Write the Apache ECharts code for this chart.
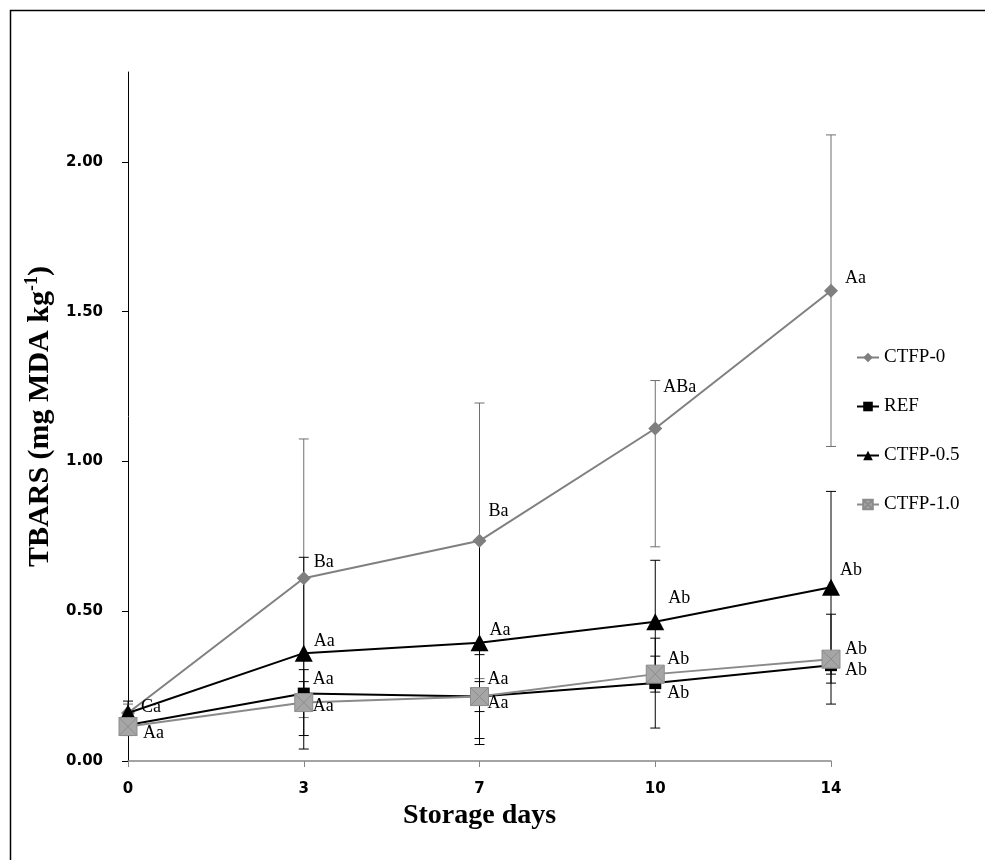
<!DOCTYPE html>
<html>
<head>
<meta charset="utf-8">
<script src="https://cdn.jsdelivr.net/npm/echarts@6/dist/echarts.min.js"></script>
<style>html,body{margin:0;padding:0;background:#fff}#c{width:985px;height:860px}</style>
</head>
<body>
<div id="c"></div>
<script>
// ---- data ----
const days = ['0', '3', '7', '10', '14'];
const yTicks = [0, 0.5, 1.0, 1.5, 2.0];

const ctfp0 = [0.16, 0.61, 0.735, 1.11, 1.57];
const ctfp0ErrUp = [0.03, 0.465, 0.46, 0.16, 0.52];
const ctfp0ErrDown = [0.03, 0.465, 0.46, 0.395, 0.52];
const ctfp0Letters = ['Ca', 'Ba', 'Ba', 'ABa', 'Aa'];

const ref = [0.12, 0.225, 0.215, 0.26, 0.32];
const refErr = [0.03, 0.04, 0.14, 0.15, 0.03];
const refLetters = ['', 'Aa', 'Aa', 'Ab', 'Ab'];

const ctfp05 = [0.16, 0.36, 0.395, 0.465, 0.58];
const ctfp05Err = [0.04, 0.32, 0.34, 0.205, 0.32];
const ctfp05Letters = ['', 'Aa', 'Aa', 'Ab', 'Ab'];

const ctfp10 = [0.115, 0.195, 0.215, 0.29, 0.34];
const ctfp10Err = [0.03, 0.11, 0.05, 0.06, 0.15];
const ctfp10Letters = ['Aa', 'Aa', 'Aa', 'Ab', 'Ab'];

// ---- styling (label offsets in px, not data) ----
const offCtfp0 = [[13, -6], [10, -16], [9, -30], [8, -41], [14, -12]];
const offRef = [[0, 0], [9, -14], [8, -17], [12, 10], [14, 5]];
const offCtfp05 = [[0, 0], [10, -12], [10, -12], [13, -23], [9, -17]];
const offCtfp10 = [[15, 7], [9, 4], [8, 7], [12, -15], [14, -10]];

const serif = 'Liberation Serif';
const sans = 'DejaVu Sans';

function errData(vals, up, down) {
  return vals.map((v, i) => [i, v - down[i], v + up[i]]);
}
function errSeries(name, vals, up, down, color) {
  return {
    type: 'custom',
    name: name + '-err',
    silent: true,
    z: 1,
    data: errData(vals, up, down),
    encode: { x: 0, y: [1, 2] },
    renderItem: function (params, api) {
      const i = api.value(0);
      const lo = api.coord([i, api.value(1)]);
      const hi = api.coord([i, api.value(2)]);
      const w = 5;
      const st = { stroke: color, lineWidth: 1 };
      return {
        type: 'group',
        children: [
          { type: 'line', shape: { x1: lo[0], y1: lo[1], x2: hi[0], y2: hi[1] }, style: st },
          { type: 'line', shape: { x1: lo[0] - w, y1: lo[1], x2: lo[0] + w, y2: lo[1] }, style: st },
          { type: 'line', shape: { x1: hi[0] - w, y1: hi[1], x2: hi[0] + w, y2: hi[1] }, style: st }
        ]
      };
    }
  };
}
function lineData(vals, letters, offs) {
  return vals.map((v, i) => ({
    value: v,
    label: {
      show: letters[i] !== '',
      formatter: letters[i],
      offset: offs[i]
    }
  }));
}
const labelBase = {
  position: 'inside',
  align: 'left',
  verticalAlign: 'middle',
  fontFamily: serif,
  fontSize: 18,
  color: '#000'
};

const chart = echarts.init(document.getElementById('c'), null, { renderer: 'canvas' });
chart.setOption({
  animation: false,
  backgroundColor: '#fff',
  graphic: [{
    type: 'rect',
    shape: { x: 10.5, y: 10.5, width: 990, height: 900 },
    style: { fill: 'none', stroke: '#000', lineWidth: 1.5 },
    silent: true
  }],
  grid: { left: 128, right: 154, top: 72, bottom: 99, containLabel: false },
  legend: {
    orient: 'vertical',
    left: 851,
    top: 343,
    itemGap: 30,
    itemWidth: 22,
    itemHeight: 12,
    textStyle: { fontFamily: serif, fontSize: 19, color: '#000' },
    data: ['CTFP-0', 'REF', 'CTFP-0.5', 'CTFP-1.0']
  },
  xAxis: {
    type: 'category',
    data: days,
    boundaryGap: false,
    axisLine: { lineStyle: { color: '#868686', width: 1.5 } },
    axisTick: { show: true, length: 6, lineStyle: { color: '#868686' } },
    axisLabel: { fontFamily: sans, fontWeight: 'bold', fontSize: 15, color: '#000', margin: 21 },
    splitLine: { show: false },
    name: 'Storage days',
    nameLocation: 'middle',
    nameGap: 28,
    nameTextStyle: { fontFamily: serif, fontWeight: 'bold', fontSize: 28, color: '#000', verticalAlign: 'top' }
  },
  yAxis: {
    type: 'value',
    min: 0,
    max: 2.3,
    interval: 0.5,
    axisLine: { show: true, lineStyle: { color: '#000', width: 1 } },
    axisTick: { show: true, length: 6, customValues: yTicks, lineStyle: { color: '#000' } },
    axisLabel: {
      customValues: yTicks,
      formatter: v => v.toFixed(2),
      fontFamily: sans, fontWeight: 'bold', fontSize: 15, color: '#000', margin: 25
    },
    splitLine: { show: false },
    name: '{a|TBARS (mg MDA kg}{s|-1}{a|)}',
    nameLocation: 'middle',
    nameRotate: 90,
    nameGap: 70,
    nameTextStyle: {
      rich: {
        a: { fontFamily: serif, fontWeight: 'bold', fontSize: 30, color: '#000', lineHeight: 34 },
        s: { fontFamily: serif, fontWeight: 'bold', fontSize: 18, color: '#000', verticalAlign: 'top', lineHeight: 34 }
      }
    }
  },
  series: [
    errSeries('CTFP-0', ctfp0, ctfp0ErrUp, ctfp0ErrDown, '#6f6f6f'),
    errSeries('REF', ref, refErr, refErr, '#000'),
    errSeries('CTFP-0.5', ctfp05, ctfp05Err, ctfp05Err, '#000'),
    errSeries('CTFP-1.0', ctfp10, ctfp10Err, ctfp10Err, '#000'),
    {
      type: 'line', name: 'CTFP-0', z: 3,
      data: lineData(ctfp0, ctfp0Letters, offCtfp0),
      symbol: 'diamond', symbolSize: [14, 14],
      lineStyle: { color: '#808080', width: 2 },
      itemStyle: { color: '#7f7f7f' },
      label: labelBase
    },
    {
      type: 'line', name: 'REF', z: 4,
      data: lineData(ref, refLetters, offRef),
      symbol: 'rect', symbolSize: 12,
      lineStyle: { color: '#000', width: 2 },
      itemStyle: { color: '#000' },
      label: labelBase
    },
    {
      type: 'line', name: 'CTFP-0.5', z: 5,
      data: lineData(ctfp05, ctfp05Letters, offCtfp05),
      symbol: 'triangle', symbolSize: [18, 17],
      lineStyle: { color: '#000', width: 2 },
      itemStyle: { color: '#000' },
      label: labelBase
    },
    {
      type: 'line', name: 'CTFP-1.0', z: 6,
      data: lineData(ctfp10, ctfp10Letters, offCtfp10),
      symbol: 'path://M0,0H20V20H0Z M0,0L20,20 M20,0L0,20', symbolSize: 18,
      lineStyle: { color: '#8a8a8a', width: 2 },
      itemStyle: { color: '#a6a6a6', borderColor: '#8c8c8c', borderWidth: 1 },
      label: labelBase
    }
  ]
});
</script>
</body>
</html>
